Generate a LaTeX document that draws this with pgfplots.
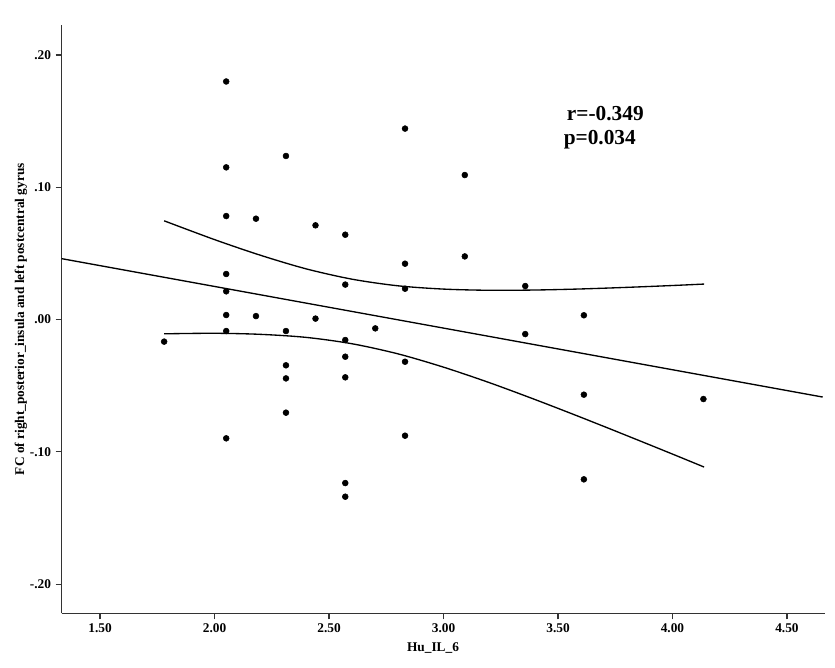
\documentclass[border=0pt]{standalone}
\usepackage{fontspec}
\setmainfont{Liberation Serif}
\usepackage{pgfplots}
\pgfplotsset{compat=1.18}

\begin{document}
\begin{tikzpicture}
\begin{axis}[
  scale only axis,
  width=572.5pt, height=441.2pt,
  xmin=1.3325, xmax=4.666,
  ymin=-0.2219, ymax=0.2227,
  axis lines*=left,
  axis line style={line width=1pt, color=black!80},
  xtick={1.5,2,...,4.5},
  xticklabels={1.50,2.00,2.50,3.00,3.50,4.00,4.50},
  ytick={-0.2,-0.1,0,0.1,0.2},
  yticklabels={-.20,-.10,.00,.10,.20},
  tick align=outside,
  major tick length=4.5pt,
  tick style={line width=0.8pt, color=black!80},
  tick label style={font=\fontsize{10}{12}\selectfont\bfseries},
  xlabel={Hu\_IL\_6},
  ylabel={FC of right\_posterior\_insula and left postcentral gyrus},
  label style={font=\fontsize{10}{12}\selectfont\bfseries},
  xlabel style={at={(axis description cs:0.4865,-0.059)}, anchor=center},
  ylabel style={at={(axis description cs:-0.0533,0.5)}, anchor=center},
  clip=false,
]
% observations
\addplot[only marks, mark=*, mark size=2.2pt, black] coordinates {
  (1.780,-0.0166)
  (2.051,0.180) (2.051,0.1151) (2.051,0.0783) (2.051,0.0345)
  (2.051,0.0214) (2.051,0.0035) (2.051,-0.0086) (2.051,-0.0897)
  (2.181,0.0763) (2.181,0.0027)
  (2.312,0.1237) (2.312,-0.0086) (2.312,-0.0345) (2.312,-0.0444) (2.312,-0.0703)
  (2.441,0.0713) (2.441,0.0008)
  (2.571,0.0642) (2.571,0.0265) (2.571,-0.0154) (2.571,-0.0280)
  (2.571,-0.0436) (2.571,-0.1235) (2.571,-0.1338)
  (2.702,-0.0066)
  (2.832,0.1444) (2.832,0.0423) (2.832,0.0234) (2.832,-0.0318) (2.832,-0.0877)
  (3.093,0.1093) (3.093,0.0478)
  (3.357,0.0254) (3.357,-0.0109)
  (3.613,0.0033) (3.613,-0.0567) (3.613,-0.1207)
  (4.135,-0.0600)
};
% fit line
\addplot[black, line width=1pt] coordinates {(1.3325,0.0461) (4.656,-0.0585)};
% upper band
\addplot[black, line width=1pt, smooth] coordinates {
  (1.78,0.0747) (2.0,0.0605) (2.2,0.0487) (2.4,0.0384) (2.6,0.0306)
  (2.8,0.0256) (3.0,0.0231) (3.2,0.0222) (3.4,0.0224) (3.6,0.0232)
  (3.8,0.0244) (4.0,0.0258) (4.138,0.0269)
};
% lower band
\addplot[black, line width=1pt, smooth] coordinates {
  (1.78,-0.0107) (2.0,-0.0103) (2.2,-0.0111) (2.4,-0.0134) (2.6,-0.0182)
  (2.8,-0.0258) (3.0,-0.0359) (3.2,-0.0476) (3.4,-0.0604) (3.6,-0.0738)
  (3.8,-0.0876) (4.0,-0.1016) (4.138,-0.1114)
};
\node[anchor=base west, inner sep=0pt, font=\fontsize{16}{18}\selectfont\bfseries]
  at (axis cs:3.538,0.1506) {r=-0.349};
\node[anchor=base west, inner sep=0pt, font=\fontsize{16}{18}\selectfont\bfseries]
  at (axis cs:3.524,0.1325) {p=0.034};
\coordinate (bl) at (rel axis cs:-0.0808,-0.093);
\coordinate (tr) at (rel axis cs:1.0131,1.0425);
\end{axis}
\pgfresetboundingbox
\path[use as bounding box] (bl) rectangle (tr);
\end{tikzpicture}
\end{document}
